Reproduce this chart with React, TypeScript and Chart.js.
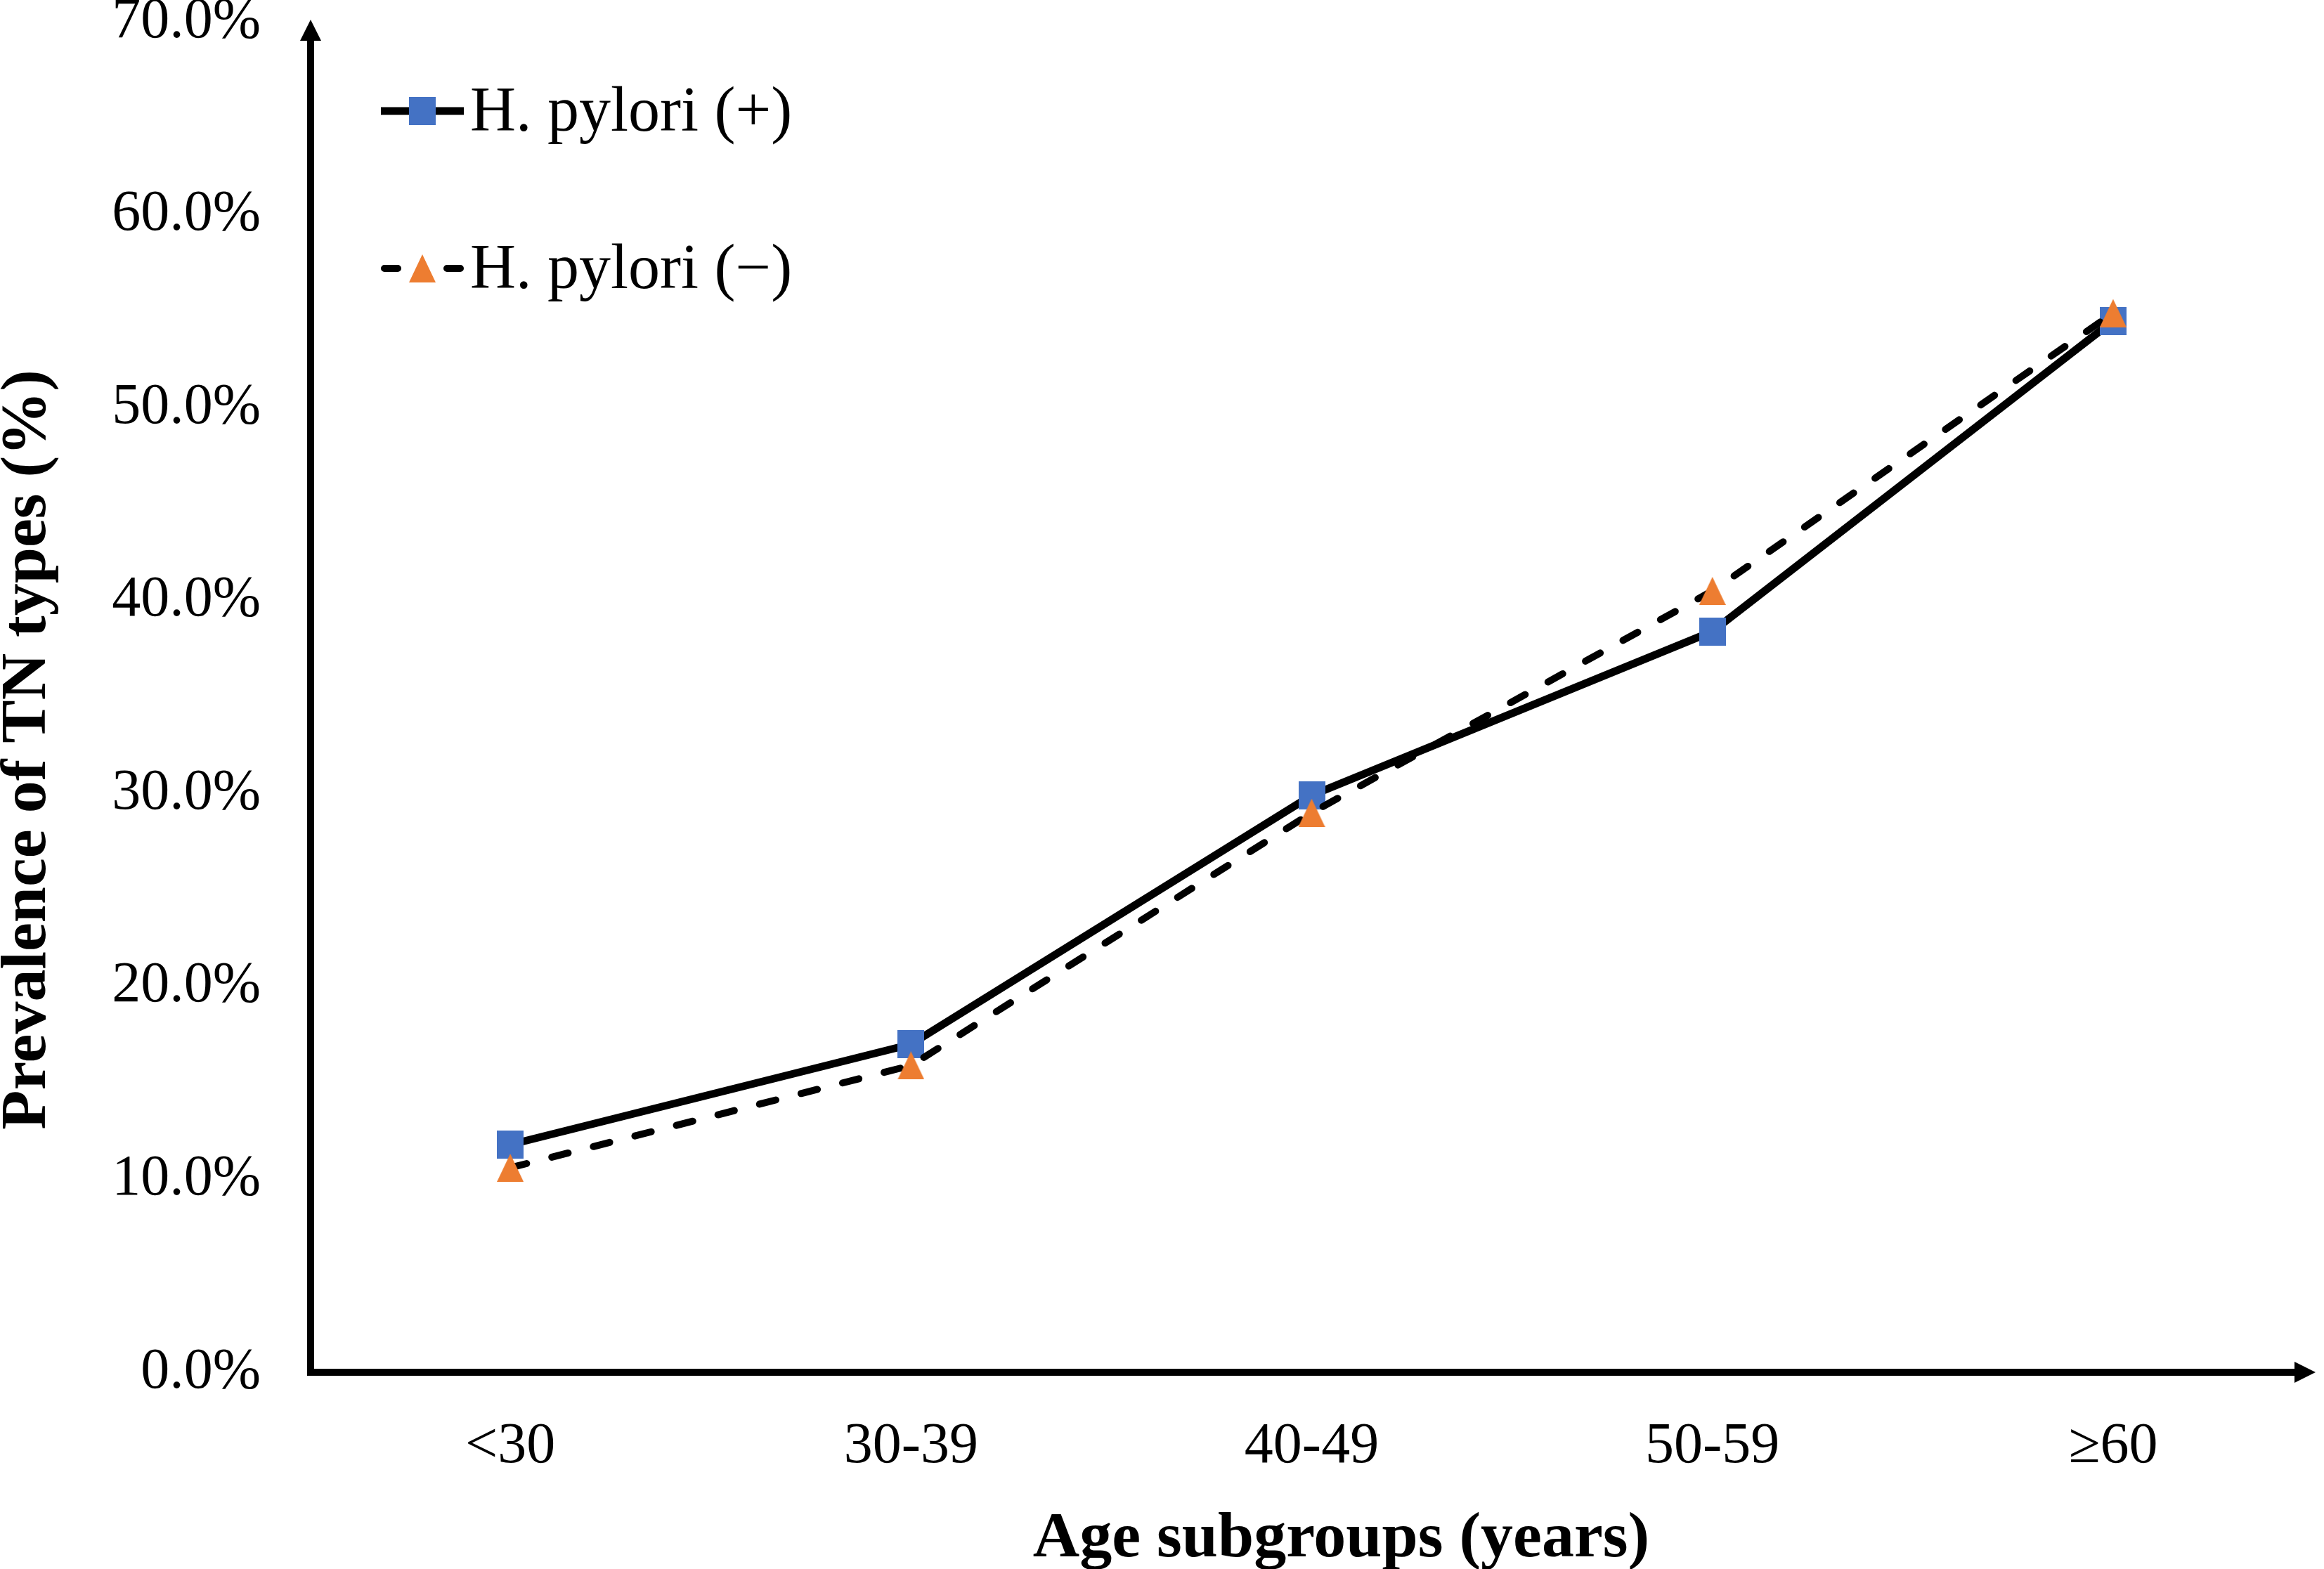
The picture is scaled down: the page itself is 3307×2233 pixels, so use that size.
import { useEffect, useRef } from "react";
import { Chart, registerables } from "chart.js";

Chart.register(...registerables);

const ageGroups = ["<30", "30-39", "40-49", "50-59", "\u226560"];
const hpPositive = [11.8, 17.0, 29.9, 38.4, 54.5];
const hpNegative = [10.6, 15.9, 29.0, 40.5, 54.9];
const seriesNames = ["H. pylori (+)", "H. pylori (\u2212)"];
const yTicks = [0, 10, 20, 30, 40, 50, 60, 70];
const xTitle = "Age subgroups (years)";
const yTitle = "Prevalence of TN types (%)";

const SERIF = "'Liberation Serif', 'Times New Roman', serif";
const BLUE = "#4472C4";
const ORANGE = "#ED7D31";

function makeMarker(kind: "square" | "triangle", color: string) {
  const c = document.createElement("canvas");
  c.width = 38;
  c.height = 40;
  const g = c.getContext("2d")!;
  g.fillStyle = color;
  if (kind === "square") {
    g.fillRect(0, 0, 38, 40);
  } else {
    g.beginPath();
    g.moveTo(19, 0);
    g.lineTo(38, 40);
    g.lineTo(0, 40);
    g.closePath();
    g.fill();
  }
  return c;
}

// axis lines with arrow heads, like the original figure
const axisArrows = {
  id: "axisArrows",
  beforeDatasetsDraw(chart: any) {
    const { ctx, chartArea } = chart;
    const { left, right, top, bottom } = chartArea;
    const ax = left + 1;
    ctx.save();
    ctx.fillStyle = "#000";
    ctx.strokeStyle = "#000";
    ctx.lineWidth = 10;
    ctx.beginPath();
    ctx.moveTo(ax, bottom + 5);
    ctx.lineTo(ax, top + 24);
    ctx.stroke();
    ctx.beginPath();
    ctx.moveTo(ax, top - 3);
    ctx.lineTo(ax - 15, top + 27);
    ctx.lineTo(ax + 15, top + 27);
    ctx.closePath();
    ctx.fill();
    ctx.beginPath();
    ctx.moveTo(ax - 5, bottom);
    ctx.lineTo(right - 25, bottom);
    ctx.stroke();
    ctx.beginPath();
    ctx.moveTo(right + 3, bottom);
    ctx.lineTo(right - 27, bottom - 15);
    ctx.lineTo(right - 27, bottom + 15);
    ctx.closePath();
    ctx.fill();
    ctx.restore();
  },
};

// axis titles sit a little off the plot centre in the original
const axisTitles = {
  id: "axisTitles",
  afterDraw(chart: any) {
    const { ctx, chartArea } = chart;
    const { left, right, top, bottom } = chartArea;
    ctx.save();
    ctx.fillStyle = "#000";
    ctx.font = `bold 92px ${SERIF}`;
    ctx.textAlign = "center";
    ctx.textBaseline = "middle";
    ctx.fillText(xTitle, (left + right) / 2 + 42, bottom + 238);
    ctx.translate(40, (top + bottom) / 2 + 75);
    ctx.rotate(-Math.PI / 2);
    ctx.fillText(yTitle, 0, 0);
    ctx.restore();
  },
};

const legendRows = [158, 382];

const insideLegend = {
  id: "insideLegend",
  afterDraw(chart: any) {
    const { ctx } = chart;
    const x0 = 542;
    const x1 = 660;
    const xm = 601;
    chart.data.datasets.forEach((ds: any, i: number) => {
      const y = legendRows[i];
      ctx.save();
      ctx.strokeStyle = ds.borderColor;
      ctx.lineWidth = ds.borderWidth;
      if (ds.borderDash && ds.borderDash.length) {
        ctx.lineCap = "round";
        ctx.beginPath();
        ctx.moveTo(x0 + 5, y);
        ctx.lineTo(x0 + 24, y);
        ctx.moveTo(x1 - 24, y);
        ctx.lineTo(x1 - 5, y);
        ctx.stroke();
      } else {
        ctx.beginPath();
        ctx.moveTo(x0, y);
        ctx.lineTo(x1, y);
        ctx.stroke();
      }
      const img = ds.pointStyle;
      ctx.drawImage(img, xm - img.width / 2, y - img.height / 2);
      ctx.fillStyle = "#000";
      ctx.font = `90px ${SERIF}`;
      ctx.textBaseline = "middle";
      ctx.textAlign = "left";
      ctx.fillText(ds.label, 669, y + 4);
      ctx.restore();
    });
  },
};

export default function App() {
  const canvasRef = useRef<HTMLCanvasElement>(null);

  useEffect(() => {
    document.body.style.margin = "0";
    const canvas = canvasRef.current;
    if (!canvas) return;

    const chart = new Chart(canvas, {
      type: "line",
      data: {
        labels: ageGroups,
        datasets: [
          {
            label: seriesNames[0],
            data: hpPositive,
            borderColor: "#000",
            borderWidth: 11,
            pointStyle: makeMarker("square", BLUE) as any,
            order: 2,
            tension: 0,
          },
          {
            label: seriesNames[1],
            data: hpNegative,
            borderColor: "#000",
            borderWidth: 10,
            borderDash: [24, 37],
            borderCapStyle: "round",
            pointStyle: makeMarker("triangle", ORANGE) as any,
            order: 1,
            tension: 0,
          },
        ],
      },
      options: {
        animation: false,
        responsive: true,
        maintainAspectRatio: false,
        color: "#000",
        layout: { padding: { top: 31, right: 3, left: 0, bottom: 0 } },
        plugins: {
          legend: { display: false },
          tooltip: { enabled: false },
        },
        scales: {
          x: {
            offset: true,
            grid: { display: false },
            border: { display: false },
            ticks: {
              color: "#000",
              padding: 49,
              font: { family: SERIF, size: 82, lineHeight: 1.2 },
              maxRotation: 0,
            },
            afterFit(scale: any) {
              scale.height = 280;
              scale.paddingLeft = 0;
              scale.paddingRight = 0;
            },
          },
          y: {
            min: 0,
            max: 70,
            grid: { display: false },
            border: { display: false },
            ticks: {
              color: "#000",
              padding: 62,
              font: { family: SERIF, size: 82, lineHeight: 0.7 },
              callback: (v: any) => Number(v).toFixed(1) + "%",
            },
            afterBuildTicks(scale: any) {
              scale.ticks = yTicks.map((v) => ({ value: v }));
            },
            afterFit(scale: any) {
              scale.width = 441;
              scale.paddingTop = 0;
              scale.paddingBottom = 0;
            },
          },
        },
      },
      plugins: [axisArrows, axisTitles, insideLegend],
    });

    return () => chart.destroy();
  }, []);

  return (
    <div style={{ position: "relative", width: "3307px", height: "2233px" }}>
      <canvas ref={canvasRef}></canvas>
    </div>
  );
}
